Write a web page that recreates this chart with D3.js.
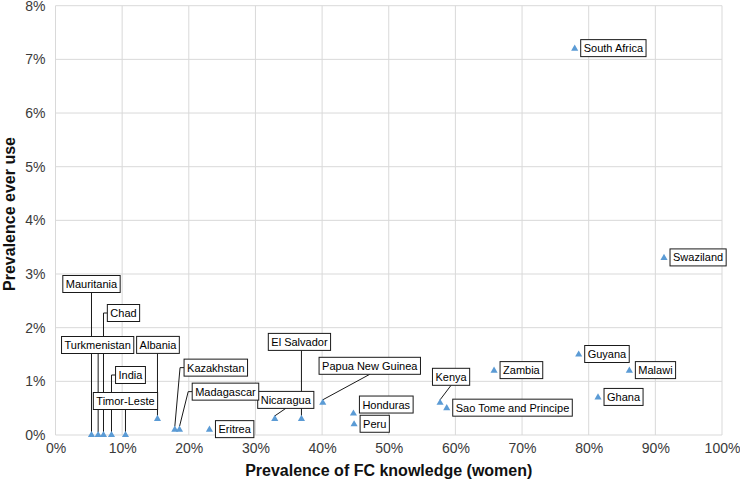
<!DOCTYPE html>
<html>
<head>
<meta charset="utf-8">
<script src="https://cdn.jsdelivr.net/npm/d3@7"></script>
<style>
  body { margin: 0; background: #fff; }
  svg { display: block; font-family: "Liberation Sans", Arial, sans-serif; }
</style>
</head>
<body>
<svg id="chart" width="740" height="486"></svg>
<script>
// data
const countries = ["South Africa", "Swaziland", "Guyana", "Malawi", "Ghana", "Zambia",
  "Kenya", "Sao Tome and Principe", "Honduras", "Peru", "Papua New Guinea", "El Salvador",
  "Nicaragua", "Eritrea", "Madagascar", "Kazakhstan", "Albania", "Mauritania",
  "Turkmenistan", "Chad", "India", "Timor-Leste"];
const fcKnowledge = [0.779, 0.913, 0.785, 0.861, 0.814, 0.658,
  0.577, 0.587, 0.447, 0.448, 0.401, 0.369,
  0.329, 0.231, 0.186, 0.179, 0.153, 0.054,
  0.064, 0.072, 0.084, 0.105];
const everUse = [0.072, 0.033, 0.015, 0.012, 0.007, 0.012,
  0.006, 0.005, 0.004, 0.002, 0.006, 0.003,
  0.003, 0.001, 0.001, 0.001, 0.003, 0,
  0, 0, 0, 0];
const xTicks = [0, 0.1, 0.2, 0.3, 0.4, 0.5, 0.6, 0.7, 0.8, 0.9, 1];
const yTicks = [0, 0.01, 0.02, 0.03, 0.04, 0.05, 0.06, 0.07, 0.08];

// where each data label sits relative to its point (pixels), and how the leader runs
const labelLayout = {
  "Mauritania":   { mode: "down", dx: 0, dy: -151 },
  "Turkmenistan": { mode: "down", dx: -0.5, dy: -90 },
  "Chad":         { mode: "left", dx: 20, dy: -122 },
  "India":        { mode: "left", dx: 19, dy: -60 },
  "Timor-Leste":  { mode: "down", dx: 0, dy: -34 },
  "Albania":      { mode: "down", dx: 0.5, dy: -74 },
  "Kazakhstan":   { mode: "leftSlant", dx: 41, dy: -62 },
  "Madagascar":   { mode: "leftSlant", dx: 46, dy: -38 },
  "El Salvador":  { mode: "down", dx: -2, dy: -77 },
  "Nicaragua":    { mode: "bottom", dx: 11, dy: -19 },
  "Papua New Guinea": { mode: "bottom", dx: 47, dy: -37 },
  "Kenya":        { mode: "bottom", dx: 11, dy: -26 },
  "Honduras":     { mode: "free", dx: 6, dy: -9 }
};

const svg = d3.select("#chart");
const x0 = 55.5, x1 = 722, y0 = 435, y1 = 5.7;

const xScale = d3.scaleLinear().domain([0, 1]).range([x0, x1]);
const yScale = d3.scaleLinear().domain([0, 0.08]).range([y0, y1]);
const pct = d3.format(".0%");

// grid
svg.append("g").selectAll("line").data(xTicks).enter().append("line")
  .attr("x1", d => xScale(d)).attr("x2", d => xScale(d))
  .attr("y1", y1).attr("y2", y0)
  .attr("stroke", "#d9d9d9").attr("stroke-width", 1);
svg.append("g").selectAll("line").data(yTicks).enter().append("line")
  .attr("x1", x0).attr("x2", x1)
  .attr("y1", d => yScale(d)).attr("y2", d => yScale(d))
  .attr("stroke", "#d9d9d9").attr("stroke-width", 1);

// axes (labels only)
let xAxis = d3.axisBottom(xScale).tickValues(xTicks).tickFormat(pct).tickSize(0).tickPadding(8);
let yAxis = d3.axisLeft(yScale).tickValues(yTicks).tickFormat(pct).tickSize(0).tickPadding(10);

let gx = svg.append("g").attr("transform", "translate(0," + y0 + ")").call(xAxis);
let gy = svg.append("g").attr("transform", "translate(" + x0 + ",0)").call(yAxis);
[gx, gy].forEach(g => {
  g.select(".domain").remove();
  g.selectAll("text").attr("font-size", 14).attr("fill", "#3a3a3a")
    .attr("font-family", "'Liberation Sans', Arial, sans-serif");
});

svg.append("text")
  .attr("x", (x0 + x1) / 2).attr("y", 476)
  .attr("text-anchor", "middle").attr("font-size", 16).attr("font-weight", "bold")
  .attr("fill", "#111")
  .text("Prevalence of FC knowledge (women)");
svg.append("text")
  .attr("transform", "translate(15,214) rotate(-90)")
  .attr("text-anchor", "middle").attr("font-size", 16).attr("font-weight", "bold")
  .attr("fill", "#111")
  .text("Prevalence ever use");

// points + labels
let data = countries.map((c, i) => ({ name: c, x: fcKnowledge[i], y: everUse[i] }));

let leaders = svg.append("g");
let marks = svg.append("g");
let labels = svg.append("g");

let boxH = 17;
data.forEach(d => {
  let px = xScale(d.x), py = yScale(d.y);
  let g = labels.append("g");
  let rect = g.append("rect");
  let txt = g.append("text").attr("font-size", 11).attr("fill", "#000").text(d.name);
  let w = txt.node().getComputedTextLength() + 6;

  let spec = labelLayout[d.name] || { mode: "right" };
  let left, cy;
  if (spec.mode === "right") {
    left = px + 6;
    cy = py - 0.5;
  } else if (spec.mode === "free") {
    left = px + spec.dx;
    cy = py + spec.dy;
  } else {
    left = px + spec.dx - w / 2;
    cy = py + spec.dy;
  }
  let top = cy - boxH / 2;
  rect.attr("x", left).attr("y", top).attr("width", w).attr("height", boxH)
    .attr("fill", "#fff").attr("stroke", "#1a1a1a").attr("stroke-width", 1);
  txt.attr("x", left + 3).attr("y", cy + 4);

  let pts = null;
  let tipY = py - 3;
  if (spec.mode === "down") pts = [[px, top + boxH], [px, tipY]];
  if (spec.mode === "left") pts = [[left, cy], [px, cy], [px, tipY]];
  if (spec.mode === "leftSlant") pts = [[left, cy], [left - 4, cy], [px, tipY]];
  if (spec.mode === "bottom") pts = [[left + w / 2, top + boxH], [px, tipY]];
  if (pts) {
    leaders.append("path")
      .attr("d", d3.line()(pts))
      .attr("fill", "none").attr("stroke", "#1a1a1a").attr("stroke-width", 1);
  }
});

marks.selectAll("path").data(data).enter().append("path")
  .attr("d", d3.symbol().type(d3.symbolTriangle).size(22))
  .attr("transform", d => "translate(" + xScale(d.x) + "," + yScale(d.y) + ")")
  .attr("fill", "#5b9bd5");
</script>
</body>
</html>
